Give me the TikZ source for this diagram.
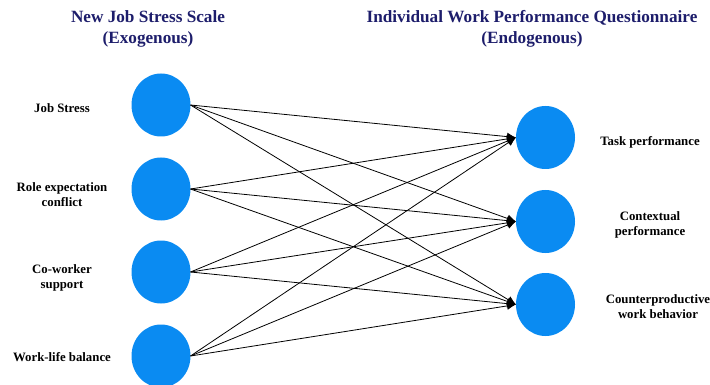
\documentclass[tikz,border=0pt]{standalone}
\usepackage{fontspec}
\setmainfont{Liberation Serif}
\usepackage{tikz}
\usetikzlibrary{arrows.meta,shapes.geometric}
\definecolor{latent}{HTML}{0A8BF2}
\definecolor{navy}{HTML}{1D1D6B}

\begin{document}
\begin{tikzpicture}[x=1pt,y=-1pt,
  var/.style={ellipse,fill=latent,minimum width=59pt,minimum height=63pt,inner sep=0pt,outer sep=0pt},
  lab/.style={align=center,font=\bfseries\fontsize{12.8}{15}\selectfont},
  head/.style={align=center,text=navy,font=\bfseries\fontsize{17.2}{21}\selectfont},
  path/.style={line width=0.8pt,-{Latex[length=9pt,width=8pt]}}]
  \useasboundingbox (0,0) rectangle (710,385);
  % headings
  \node[head] (exo) at (148,29) {New Job Stress Scale\\(Exogenous)};
  \node[head] (endo) at (532,29) {Individual Work Performance Questionnaire\\(Endogenous)};
  % exogenous variables
  \node[var] (js) at (161,105) {};
  \node[var] (rc) at (161,189) {};
  \node[var] (cw) at (161,272) {};
  \node[var] (wl) at (161,356) {};
  \node[lab] (jsl) at (62,108) {Job Stress};
  \node[lab] (rcl) at (62,195) {Role expectation\\conflict};
  \node[lab] (cwl) at (62,278) {Co-worker\\support};
  \node[lab] (wll) at (62,357) {Work-life balance};
  % endogenous variables
  \node[var] (tp) at (545.5,137.5) {};
  \node[var] (cp) at (545.5,221.5) {};
  \node[var] (cb) at (545.5,304.5) {};
  \node[lab] (tpl) at (650,142) {Task performance};
  \node[lab] (cpl) at (650,225) {Contextual\\performance};
  \node[lab] (cbl) at (658,307) {Counterproductive\\work behavior};
  % every stressor points to every outcome
  \foreach \s in {js,rc,cw,wl}
    \foreach \t in {tp,cp,cb}
      \draw[path] (\s.east) -- (\t.west);
\end{tikzpicture}
\end{document}
